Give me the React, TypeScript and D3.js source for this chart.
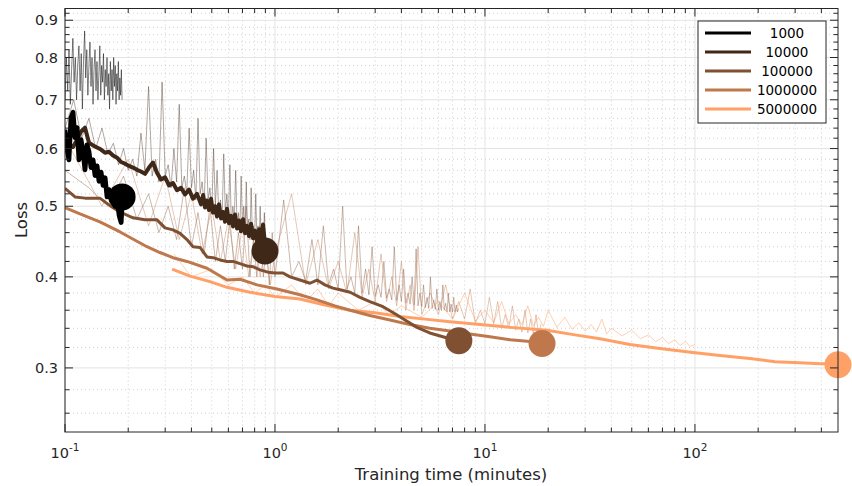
import React from 'react';
import * as d3 from 'd3';

type P = [number, number];

const seriesNames = ['1000', '10000', '100000', '1000000', '5000000'];
const seriesColors = ['#000000', '#402819', '#805033', '#bf784c', '#ffa066'];

const markerTimes = [0.187, 0.896, 7.51, 18.7, 480];
const markerLoss = [0.515, 0.434, 0.327, 0.324, 0.303];

const xMajorTicks = [0.1, 1, 10, 100];
const xTickExponents = ['-1', '0', '1', '2'];
const yMajorTicks = [0.3, 0.4, 0.5, 0.6, 0.7, 0.8, 0.9];
const yTickLabels = ['0.3', '0.4', '0.5', '0.6', '0.7', '0.8', '0.9'];

// smoothed curves
const smooth1000: P[] = [[0.100,0.637],[0.1022,0.598],[0.1044,0.579],[0.1068,0.661],[0.1092,0.673],[0.1116,0.621],[0.1141,0.641],[0.1166,0.579],[0.1192,0.617],[0.1218,0.594],[0.1245,0.561],[0.1273,0.607],[0.1301,0.594],[0.1330,0.565],[0.1360,0.579],[0.1390,0.551],[0.1421,0.568],[0.1452,0.541],[0.1485,0.557],[0.1518,0.534],[0.1552,0.547],[0.1586,0.515],[0.1622,0.527],[0.1658,0.510],[0.1694,0.520],[0.1732,0.500],[0.1771,0.510],[0.1810,0.486],[0.1851,0.475],[0.187,0.502]];

const smooth10000: P[] = [[0.100,0.623],[0.1045,0.607],[0.1092,0.603],[0.1141,0.617],[0.1192,0.633],[0.1245,0.641],[0.1301,0.611],[0.136,0.606],[0.1421,0.602],[0.1484,0.598],[0.1551,0.592],[0.162,0.594],[0.1693,0.587],[0.1769,0.583],[0.1848,0.575],[0.193,0.572],[0.2018,0.568],[0.2107,0.565],[0.2203,0.561],[0.230,0.558],[0.2404,0.554],[0.2512,0.565],[0.2624,0.574],[0.2742,0.556],[0.2865,0.544],[0.2994,0.548],[0.3128,0.534],[0.3268,0.538],[0.3415,0.526],[0.3568,0.530],[0.3728,0.519],[0.3896,0.527],[0.407,0.512],[0.4253,0.520],[0.4444,0.503],[0.455,0.518],[0.4642,0.498],[0.475,0.509],[0.4851,0.494],[0.496,0.512],[0.5069,0.490],[0.518,0.500],[0.5296,0.484],[0.541,0.503],[0.5534,0.481],[0.566,0.491],[0.5782,0.476],[0.591,0.496],[0.6041,0.474],[0.618,0.485],[0.6313,0.469],[0.645,0.487],[0.6596,0.466],[0.674,0.478],[0.6892,0.462],[0.705,0.480],[0.720,0.459],[0.736,0.470],[0.7524,0.455],[0.769,0.473],[0.786,0.452],[0.803,0.463],[0.8214,0.448],[0.84,0.465],[0.858,0.446],[0.877,0.472],[0.8963,0.444]];

const smooth100000: P[] = [[0.100,0.529],[0.1116,0.515],[0.1245,0.513],[0.1466,0.513],[0.1638,0.501],[0.1829,0.491],[0.2107,0.482],[0.2404,0.479],[0.2742,0.479],[0.2994,0.467],[0.3268,0.464],[0.353,0.459],[0.381,0.450],[0.407,0.440],[0.4394,0.439],[0.4744,0.426],[0.5069,0.425],[0.547,0.422],[0.5907,0.420],[0.6313,0.420],[0.6813,0.417],[0.7354,0.414],[0.786,0.413],[0.8483,0.409],[0.9259,0.406],[1.0,0.405],[1.092,0.405],[1.179,0.400],[1.315,0.396],[1.468,0.392],[1.585,0.396],[1.73,0.390],[1.888,0.386],[2.04,0.384],[2.28,0.381],[2.54,0.375],[2.83,0.370],[3.27,0.364],[3.73,0.356],[4.16,0.349],[4.74,0.341],[5.46,0.335],[6.30,0.331],[6.81,0.329],[7.51,0.327]];

const smooth1000000: P[] = [[0.100,0.498],[0.1179,0.488],[0.1466,0.476],[0.1829,0.461],[0.2457,0.440],[0.2830,0.432],[0.3268,0.425],[0.381,0.420],[0.4744,0.411],[0.5907,0.396],[0.6813,0.397],[0.8214,0.390],[1.022,0.385],[1.179,0.381],[1.315,0.378],[1.585,0.372],[1.93,0.365],[2.28,0.360],[2.83,0.354],[3.53,0.349],[4.39,0.344],[5.46,0.340],[6.81,0.337],[8.48,0.334],[10.56,0.331],[13.16,0.328],[16.38,0.326],[18.7,0.324]];

const smooth5000000: P[] = [[0.3236,0.410],[0.394,0.401],[0.490,0.394],[0.5907,0.387],[0.760,0.381],[1.0,0.376],[1.315,0.373],[1.73,0.366],[2.28,0.360],[2.99,0.357],[3.94,0.353],[5.18,0.350],[6.81,0.347],[9.47,0.344],[13.16,0.341],[19.74,0.338],[26.83,0.333],[35.29,0.329],[49.0,0.323],[68.1,0.319],[97.8,0.315],[131.5,0.312],[182.8,0.309],[240.4,0.306],[316,0.305],[393.9,0.304],[479.7,0.304]];

// raw (noisy) curves
const raw1000: P[] = [[0.100,0.70],[0.1015,0.80],[0.103,0.72],[0.1045,0.82],[0.106,0.69],[0.1075,0.77],[0.109,0.85],[0.1105,0.74],[0.112,0.80],[0.1135,0.70],[0.115,0.78],[0.1165,0.83],[0.118,0.72],[0.1195,0.81],[0.121,0.68],[0.1225,0.79],[0.124,0.87],[0.1255,0.75],[0.127,0.82],[0.1285,0.71],[0.130,0.78],[0.1315,0.84],[0.133,0.73],[0.1345,0.80],[0.136,0.69],[0.1375,0.77],[0.139,0.82],[0.1405,0.72],[0.142,0.79],[0.1435,0.70],[0.145,0.76],[0.1465,0.83],[0.148,0.71],[0.1495,0.78],[0.151,0.74],[0.1525,0.81],[0.154,0.70],[0.1555,0.77],[0.157,0.73],[0.1585,0.80],[0.160,0.71],[0.1615,0.76],[0.163,0.68],[0.1645,0.79],[0.166,0.72],[0.1675,0.77],[0.169,0.70],[0.1705,0.80],[0.172,0.73],[0.1735,0.78],[0.175,0.69],[0.1765,0.76],[0.178,0.72],[0.1795,0.79],[0.181,0.70],[0.1825,0.75],[0.184,0.71],[0.1855,0.77],[0.187,0.70]];

const raw10000: P[] = [[0.10,0.64],[0.11,0.70],[0.12,0.62],[0.13,0.66],[0.14,0.60],[0.15,0.64],[0.16,0.59],[0.17,0.61],[0.18,0.57],[0.19,0.60],[0.20,0.56],[0.21,0.58],[0.22,0.55],[0.23,0.63],[0.24,0.56],[0.25,0.73],[0.26,0.55],[0.27,0.58],[0.28,0.54],[0.29,0.74],[0.30,0.55],[0.31,0.57],[0.32,0.53],[0.33,0.60],[0.34,0.54],[0.35,0.69],[0.36,0.53],[0.37,0.55],[0.38,0.52],[0.39,0.64],[0.40,0.53],[0.41,0.56],[0.42,0.51],[0.43,0.66],[0.44,0.52],[0.45,0.54],[0.46,0.50],[0.47,0.62],[0.48,0.51],[0.49,0.53],[0.50,0.49],[0.51,0.60],[0.52,0.50],[0.53,0.56],[0.54,0.49],[0.55,0.51],[0.56,0.48],[0.57,0.59],[0.58,0.49],[0.59,0.52],[0.60,0.48],[0.61,0.57],[0.62,0.47],[0.63,0.50],[0.64,0.48],[0.65,0.56],[0.66,0.47],[0.67,0.49],[0.68,0.46],[0.69,0.55],[0.70,0.47],[0.71,0.50],[0.72,0.46],[0.73,0.54],[0.74,0.46],[0.75,0.48],[0.76,0.45],[0.77,0.53],[0.78,0.46],[0.79,0.47],[0.80,0.45],[0.81,0.52],[0.82,0.45],[0.83,0.47],[0.84,0.44],[0.85,0.50],[0.86,0.44],[0.87,0.46],[0.88,0.44],[0.89,0.49],[0.90,0.44]];

const raw100000: P[] = [[0.10,0.56],[0.13,0.53],[0.16,0.50],[0.19,0.55],[0.22,0.48],[0.25,0.52],[0.28,0.46],[0.31,0.50],[0.34,0.45],[0.37,0.53],[0.40,0.44],[0.43,0.49],[0.46,0.43],[0.49,0.50],[0.52,0.42],[0.55,0.47],[0.58,0.42],[0.61,0.48],[0.64,0.41],[0.67,0.46],[0.70,0.41],[0.73,0.50],[0.76,0.40],[0.79,0.45],[0.82,0.40],[0.85,0.47],[0.88,0.40],[0.91,0.44],[0.94,0.39],[0.97,0.46],[1.00,0.40],[1.1,0.51],[1.2,0.40],[1.3,0.42],[1.4,0.395],[1.5,0.45],[1.6,0.39],[1.7,0.47],[1.8,0.39],[1.9,0.41],[2.0,0.385],[2.1,0.50],[2.2,0.385],[2.3,0.40],[2.4,0.38],[2.5,0.47],[2.6,0.38],[2.7,0.41],[2.8,0.378],[2.9,0.44],[3.0,0.376],[3.1,0.39],[3.2,0.375],[3.3,0.42],[3.4,0.374],[3.5,0.385],[3.6,0.372],[3.7,0.44],[3.8,0.371],[3.9,0.39],[4.0,0.37],[4.1,0.41],[4.2,0.368],[4.3,0.38],[4.4,0.367],[4.5,0.40],[4.6,0.366],[4.7,0.437],[4.8,0.365],[4.9,0.38],[5.0,0.364],[5.1,0.39],[5.2,0.363],[5.3,0.375],[5.4,0.362],[5.5,0.40],[5.6,0.362],[5.7,0.372],[5.8,0.361],[5.9,0.385],[6.0,0.36],[6.1,0.37],[6.2,0.36],[6.3,0.39],[6.4,0.36],[6.5,0.368],[6.6,0.358],[6.7,0.38],[6.8,0.358],[6.9,0.367],[7.0,0.358],[7.1,0.375],[7.2,0.358],[7.3,0.366],[7.4,0.358],[7.5,0.362]];

const raw1000000: P[] = [[0.10,0.62],[0.15,0.50],[0.20,0.58],[0.25,0.47],[0.30,0.55],[0.35,0.45],[0.40,0.52],[0.45,0.43],[0.50,0.50],[0.55,0.42],[0.60,0.48],[0.65,0.41],[0.70,0.47],[0.75,0.40],[0.80,0.46],[0.85,0.40],[0.90,0.44],[0.95,0.39],[1.00,0.43],[1.2,0.52],[1.4,0.39],[1.6,0.45],[1.8,0.385],[2.0,0.42],[2.2,0.38],[2.4,0.46],[2.6,0.375],[2.8,0.41],[3.0,0.37],[3.2,0.43],[3.4,0.37],[3.6,0.40],[3.8,0.365],[4.0,0.42],[4.2,0.36],[4.4,0.39],[4.6,0.36],[4.8,0.44],[5.0,0.355],[5.5,0.38],[6.0,0.355],[6.5,0.39],[7.0,0.35],[7.5,0.37],[8.0,0.35],[8.5,0.385],[9.0,0.345],[9.5,0.36],[10.0,0.345],[10.5,0.375],[11.0,0.345],[11.5,0.37],[12.0,0.34],[12.5,0.355],[13.0,0.34],[13.5,0.365],[14.0,0.338],[14.5,0.35],[15.0,0.336],[15.5,0.36],[16.0,0.335],[16.5,0.35],[17.0,0.334],[17.5,0.355],[18.0,0.333],[18.5,0.345]];

const raw5000000: P[] = [[0.33,0.43],[0.4,0.40],[0.5,0.41],[0.6,0.39],[0.7,0.40],[0.8,0.38],[0.9,0.39],[1.0,0.375],[1.2,0.39],[1.4,0.37],[1.6,0.385],[1.8,0.365],[2.0,0.38],[2.5,0.36],[3,0.37],[3.5,0.355],[4,0.365],[5,0.352],[6,0.37],[7,0.35],[8,0.38],[9,0.348],[10,0.36],[11,0.346],[12,0.37],[13,0.345],[14,0.355],[15,0.344],[16,0.365],[17,0.343],[18,0.352],[19,0.342],[20,0.36],[22,0.341],[24,0.352],[26,0.339],[28,0.346],[30,0.337],[32,0.344],[34,0.336],[36,0.35],[38,0.334],[40,0.34],[45,0.332],[50,0.338],[55,0.329],[60,0.333],[65,0.326],[70,0.33],[75,0.324],[80,0.328],[85,0.322],[90,0.326],[95,0.321],[100,0.323]];

const smoothSeries = [smooth1000, smooth10000, smooth100000, smooth1000000, smooth5000000];
const rawSeries = [raw1000, raw10000, raw100000, raw1000000, raw5000000];
const smoothWidths = [4.8, 4, 3, 3, 3];
const rawOpacity = [0.55, 0.45, 0.45, 0.45, 0.55];

const W = 852, H = 486;
const L = 65, R = 838, T = 8.5, B = 432;
const FONT = 'DejaVu Sans, sans-serif';
const AX = '#262626';

export default function App() {
  const x = d3.scaleLog().domain([0.1, 480]).range([L, R]);
  const y = d3.scaleLog().domain([0.245, 0.934]).range([B, T]);
  const line = d3.line<P>().x(d => x(d[0])).y(d => y(d[1]));

  const xMinor: number[] = [];
  xMajorTicks.forEach(d => { for (let k = 2; k <= 9; k++) { const v = k * d; if (v < 480) xMinor.push(v); } });
  const yMinor: number[] = [];
  for (let i = 13; i <= 46; i++) { if (i % 5 !== 0) yMinor.push(i * 0.02); }

  return (
    <svg width={W} height={H} style={{ position: 'absolute', left: 0, top: 0, background: '#fff' }} fontFamily={FONT}>
      <rect x={0} y={0} width={W} height={H} fill="#fff" />
      <defs>
        <clipPath id="plotclip"><rect x={L} y={T} width={R - L} height={B - T} /></clipPath>
      </defs>
      {xMinor.map((v, i) => (
        <line key={'xg' + i} x1={x(v)} x2={x(v)} y1={T} y2={B} stroke="#c4c4c4" strokeWidth={0.8} strokeDasharray="1,3" />
      ))}
      {yMinor.map((v, i) => (
        <line key={'yg' + i} x1={L} x2={R} y1={y(v)} y2={y(v)} stroke="#c4c4c4" strokeWidth={0.8} strokeDasharray="1,3" />
      ))}
      {xMajorTicks.map((v, i) => (
        <line key={'xM' + i} x1={x(v)} x2={x(v)} y1={T} y2={B} stroke="#e3e3e3" strokeWidth={1} />
      ))}
      {yMajorTicks.map((v, i) => (
        <line key={'yM' + i} x1={L} x2={R} y1={y(v)} y2={y(v)} stroke="#e3e3e3" strokeWidth={1} />
      ))}
      <g clipPath="url(#plotclip)">
        {rawSeries.map((s, i) => (
          <path key={'raw' + i} d={line(s) || ''} fill="none" stroke={seriesColors[i]} strokeOpacity={rawOpacity[i]} strokeWidth={0.9} strokeLinejoin="round" />
        ))}
        {[4, 3, 2, 1, 0].map(i => (
          <path key={'sm' + i} d={line(smoothSeries[i]) || ''} fill="none" stroke={seriesColors[i]} strokeWidth={smoothWidths[i]} strokeLinejoin="round" />
        ))}
      </g>
      {markerTimes.map((t, i) => (
        <circle key={'m' + i} cx={x(t)} cy={y(markerLoss[i])} r={13.5} fill={seriesColors[i]} />
      ))}
      <rect x={L} y={T} width={R - L} height={B - T} fill="none" stroke={AX} strokeWidth={1} />
      {xMajorTicks.map((v, i) => (
        <g key={'xt' + i}>
          <line x1={x(v)} x2={x(v)} y1={B} y2={B - 8} stroke={AX} />
          <line x1={x(v)} x2={x(v)} y1={T} y2={T + 8} stroke={AX} />
          <text x={x(v)} y={458} textAnchor="middle" fontSize={14.5} fill={AX}>
            10<tspan dy={-7} fontSize={10.5}>{xTickExponents[i]}</tspan>
          </text>
        </g>
      ))}
      {xMinor.map((v, i) => (
        <g key={'xmt' + i}>
          <line x1={x(v)} x2={x(v)} y1={B} y2={B - 4.5} stroke={AX} />
          <line x1={x(v)} x2={x(v)} y1={T} y2={T + 4.5} stroke={AX} />
        </g>
      ))}
      {yMajorTicks.map((v, i) => (
        <g key={'yt' + i}>
          <line x1={L} x2={L + 8} y1={y(v)} y2={y(v)} stroke={AX} />
          <line x1={R} x2={R - 8} y1={y(v)} y2={y(v)} stroke={AX} />
          <text x={58} y={y(v) + 5} textAnchor="end" fontSize={14.5} fill={AX}>{yTickLabels[i]}</text>
        </g>
      ))}
      {yMinor.map((v, i) => (
        <g key={'ymt' + i}>
          <line x1={L} x2={L + 4.5} y1={y(v)} y2={y(v)} stroke={AX} />
          <line x1={R} x2={R - 4.5} y1={y(v)} y2={y(v)} stroke={AX} />
        </g>
      ))}
      <text x={451} y={480} textAnchor="middle" fontSize={16.5} fill={AX}>Training time (minutes)</text>
      <text transform={`translate(27,220) rotate(-90)`} textAnchor="middle" fontSize={16.5} fill={AX}>Loss</text>
      <rect x={698} y={21} width={128} height={102} fill="#fff" stroke={AX} strokeWidth={1} />
      {seriesNames.map((n, i) => (
        <g key={'lg' + i}>
          <line x1={705} x2={751} y1={33 + i * 19} y2={33 + i * 19} stroke={seriesColors[i]} strokeWidth={3} />
          <text x={787} y={33 + i * 19 + 5} textAnchor="middle" fontSize={13.5} fill="#000">{n}</text>
        </g>
      ))}
    </svg>
  );
}
